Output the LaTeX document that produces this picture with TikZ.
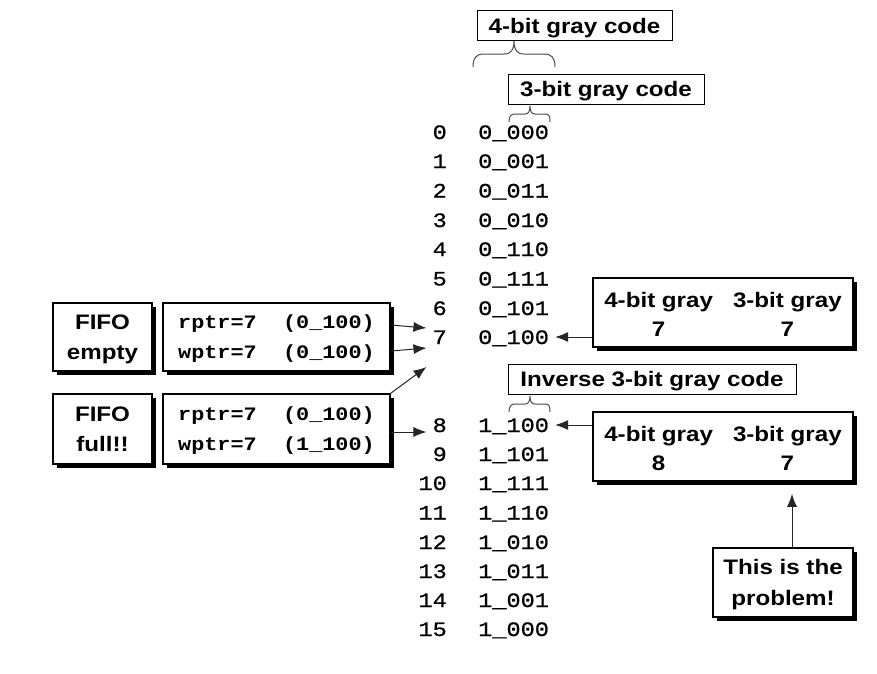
\documentclass[tikz,border=0pt]{standalone}
\usepackage{fontspec}
\setmainfont{Liberation Sans}[FakeStretch=1.15]
\setmonofont{Liberation Mono}[FakeStretch=1.15]
\newfontfamily\tabmono{Liberation Mono}[FakeStretch=1.15,FakeBold=0.8]
\usetikzlibrary{arrows.meta,shadows,calc}
\tikzset{
  lbl/.style={draw, line width=1pt, inner sep=0pt, minimum height=30pt, text depth=0pt,
    font=\bfseries\fontsize{21}{30}\selectfont},
  sbox/.style={draw, line width=1.6pt, fill=white, inner sep=0pt, align=center, text depth=0pt,
    drop shadow={shadow xshift=4pt,shadow yshift=-4pt,opacity=1,fill=black},
    font=\bfseries\fontsize{21}{30.5}\selectfont},
  ptrbox/.style={sbox, align=left, font=\ttfamily\bfseries\fontsize{19}{30}\selectfont},
  num/.style={anchor=base east, inner sep=2pt, font=\tabmono\fontsize{20.5}{24}\selectfont},
  code/.style={anchor=base west, inner sep=2pt, font=\tabmono\fontsize{20.5}{24}\selectfont},
  arr/.style={line width=1pt, draw=black!85, -{Latex[length=13pt,width=10pt]}},
  brc/.style={line width=1pt, draw=black!70},
}
\begin{document}
\begin{tikzpicture}[x=1pt,y=-1pt]
\useasboundingbox[fill=white] (0,0) rectangle (877,673);

% label boxes
\node[lbl, minimum width=195pt] (lab4) at (574.5,25.5) {4-bit gray code};
\node[lbl, minimum width=196pt] (lab3) at (606,89) {3-bit gray code};
\node[lbl, minimum width=288pt] (labinv) at (652,379) {Inverse 3-bit gray code};

% braces
\draw[brc] (473,67) .. controls (473,58) and (476,54) .. (484,54) -- (504,54)
  .. controls (511,54) and (514,50) .. (514,41)
  .. controls (514,50) and (517,54) .. (524,54) -- (544,54)
  .. controls (552,54) and (555,58) .. (555,67);
\foreach \dy in {0,290}{
\begin{scope}[shift={(0,\dy)}]
\draw[brc] (509,122) .. controls (509,116) and (511,114) .. (515,114) -- (525,114)
  .. controls (528,114) and (530,112) .. (530,106)
  .. controls (530,112) and (532,114) .. (535,114) -- (545,114)
  .. controls (549,114) and (550,116) .. (550,122);
\end{scope}}

% table
\foreach \i/\c/\y in {0/0\_000/139,1/0\_001/168,2/0\_011/197.5,3/0\_010/227,
  4/0\_110/256,5/0\_111/285.5,6/0\_101/315,7/0\_100/344,
  8/1\_100/432,9/1\_101/461,10/1\_111/490,11/1\_110/519.5,
  12/1\_010/549,13/1\_011/578,14/1\_001/607,15/1\_000/636}{
  \node[num] (n\i) at (449,\y) {\i};
  \node[code] (c\i) at (476,\y) {\c};
}

% left boxes
\node[sbox, minimum width=99pt, minimum height=68pt] (empty) at (102.5,337) {FIFO\\empty};
\node[ptrbox, minimum width=227pt, minimum height=68pt] (emptyptr) at (276.5,337)
  {rptr=7\ \ (0\_100)\\wptr=7\ \ (0\_100)};
\node[sbox, minimum width=99pt, minimum height=70pt] (full) at (102.5,429) {FIFO\\full!!};
\node[ptrbox, minimum width=227pt, minimum height=70pt] (fullptr) at (276.5,429)
  {rptr=7\ \ (0\_100)\\wptr=7\ \ (1\_100)};

% right boxes
\node[sbox, text depth=18pt, minimum width=260pt, minimum height=69pt] (topR) at (723,312.5)
  {\setlength\tabcolsep{10pt}\begin{tabular}{cc}4-bit gray & 3-bit gray\\[-2pt] 7 & 7\end{tabular}};
\node[sbox, text depth=18pt, minimum width=260pt, minimum height=69pt] (botR) at (723,446.5)
  {\setlength\tabcolsep{10pt}\begin{tabular}{cc}4-bit gray & 3-bit gray\\[-2pt] 8 & 7\end{tabular}};
\node[sbox, font=\bfseries\fontsize{21}{31.5}\selectfont, minimum width=140pt, minimum height=69pt] (prob) at (783,582.5)
  {This is the\\problem!};

% connectors
\draw[arr] (emptyptr.east |- 0,325) -- ([xshift=-4pt]n7.west |- 0,328);
\draw[arr] (emptyptr.east |- 0,351) -- ([xshift=-4pt]n7.west |- 0,348);
\draw[arr] (fullptr.north east) -- ([xshift=-4pt]n7.west |- 0,367);
\draw[arr] (fullptr.east |- 0,432) -- ([xshift=-4pt]n8.west |- 0,432);
\draw[arr] (topR.west |- 0,337) -- ([xshift=4pt]c7.east |- 0,337);
\draw[arr] (botR.west |- 0,425) -- ([xshift=4pt]c8.east |- 0,425);
\draw[arr] ([xshift=9pt]prob.north) -- ([xshift=9pt,yshift=-12pt]prob.north |- botR.south);
\end{tikzpicture}
\end{document}
